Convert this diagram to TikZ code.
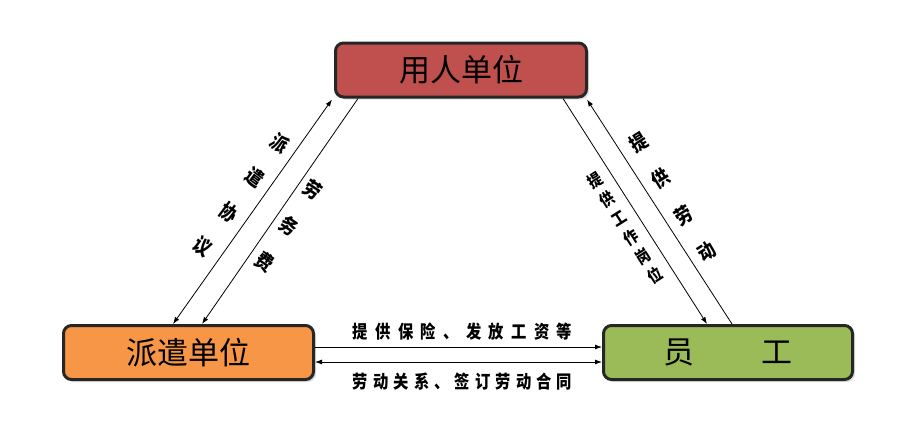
\documentclass[tikz,border=0pt]{standalone}
\usepackage{fontspec}
\newfontfamily\boxfont{Noto Sans CJK SC}
\newfontfamily\labfont{Noto Sans CJK SC}[FakeStretch=0.85]
\usetikzlibrary{arrows.meta,shadows}
\definecolor{redfill}{HTML}{C0504D}
\definecolor{orangefill}{HTML}{F79646}
\definecolor{greenfill}{HTML}{9BBB59}
\definecolor{edgecol}{HTML}{262626}
\newcommand\cga{\kern7.4pt}
\newcommand\cgb{\kern5.1pt}
\tikzset{
  party/.style={draw=edgecol, line width=3pt, rounded corners=8pt, minimum height=54pt,
    inner sep=0pt, font=\boxfont\fontsize{31}{31}\selectfont,
    drop shadow={shadow xshift=2.5pt, shadow yshift=-2.5pt, opacity=0.25}},
  flow/.style={line width=0.8pt, draw=black},
  tip/.style={-{Latex[length=7pt,width=5pt]}},
  dtip/.style={{Latex[length=7pt,width=5pt]}-{Latex[length=7pt,width=5pt]}},
  hlab/.style={font=\labfont\bfseries\fontsize{18}{18}\selectfont, inner sep=0pt},
  dlab/.style={font=\labfont\bfseries\fontsize{20}{43}\selectfont, align=center, inner sep=0pt},
  dlabtight/.style={font=\labfont\bfseries\fontsize{16.5}{22.5}\selectfont, align=center, inner sep=0pt},
}
\begin{document}
\begin{tikzpicture}[x=1pt,y=-1pt]
\useasboundingbox[fill=white] (0,0) rectangle (920,432);
% boxes
\node[party, fill=redfill, minimum width=251pt] (T) at (461,70) {用人单位};
\node[party, fill=orangefill, minimum width=250pt] (L) at (188.5,352.5) {派遣单位};
\node[party, fill=greenfill, minimum width=249pt] (R) at (728,352.5) {员\hspace{68pt}工};
% diagonal connectors, left
\draw[flow,dtip] ([xshift=111pt]L.north west) -- ([xshift=-2pt,yshift=-1pt]T.south west);
\draw[flow,tip] ([xshift=24pt]T.south west) -- ([xshift=140pt]L.north west);
% diagonal connectors, right
\draw[flow,tip] ([xshift=-25pt]T.south east) -- ([xshift=105pt]R.north west);
\draw[flow,tip] ([xshift=130pt]R.north west) -- ([xshift=-1pt,yshift=-1pt]T.south east);
% horizontal connectors
\draw[flow,tip] ([yshift=5.5pt]L.east) -- ([yshift=5.5pt]R.west);
\draw[flow,dtip] ([yshift=-9.5pt]L.east) -- ([yshift=-9.5pt]R.west);
% labels
\node[hlab] (h1) at (462.5,332) {提\cga 供\cga 保\cga 险\cga 、\cga 发\cga 放\cga 工\cga 资\cga 等};
\node[hlab] (h2) at (462.5,382) {劳\cgb 动\cgb 关\cgb 系\cgb 、\cgb 签\cgb 订\cgb 劳\cgb 动\cgb 合\cgb 同};
\node[dlab, rotate=-36.5] (pq) at (241.5,195) {派\\遣\\协\\议};
\node[dlab, rotate=-33.7] (lw) at (289,226) {劳\\务\\费};
\node[dlab, rotate=32] (tl) at (672.5,197) {提\\供\\劳\\动};
\node[dlabtight, rotate=32.3] (tg) at (625,227.5) {提\\供\\工\\作\\岗\\位};
\end{tikzpicture}
\end{document}
